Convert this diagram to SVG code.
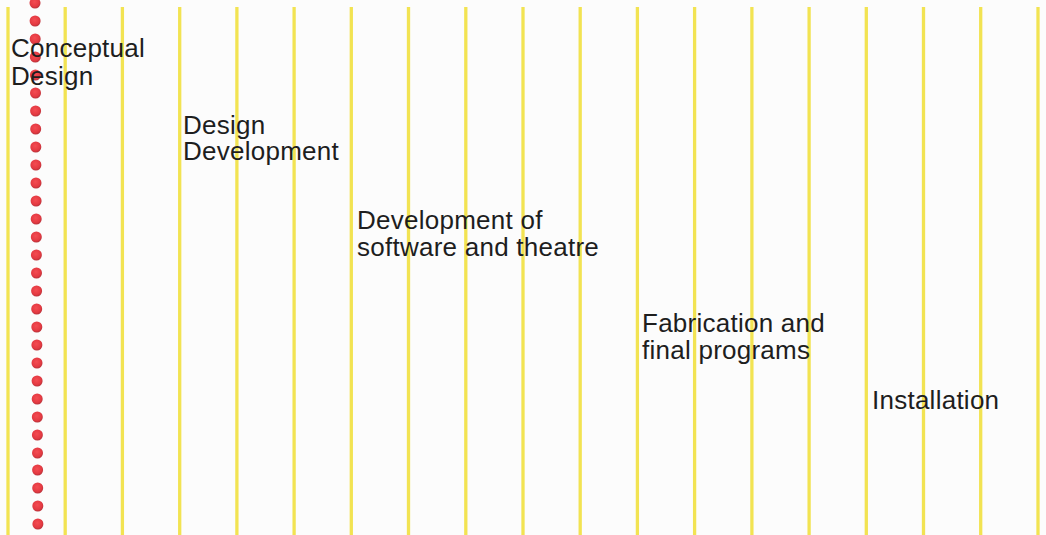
<svg xmlns="http://www.w3.org/2000/svg" width="1046" height="535" viewBox="0 0 1046 535">
<defs>
<radialGradient id="dotg" cx="45%" cy="40%" r="60%">
<stop offset="0" stop-color="#f44c52"/>
<stop offset="0.7" stop-color="#e43a42"/>
<stop offset="1" stop-color="#b8323a"/>
</radialGradient>
</defs>
<style>
.grid line{stroke:#f2e352;stroke-width:3.3}
.dot{fill:url(#dotg)}
text{font-family:"Liberation Sans",Arial,Helvetica,sans-serif;font-size:26px;letter-spacing:0.25px;fill:#1e1e1e}
</style>
<rect x="0" y="0" width="1046" height="535" fill="#fcfcfc"/>
<g id="grid" class="grid">
<line x1="8" y1="7" x2="8" y2="535"/>
<line x1="65.2" y1="7" x2="65.2" y2="535"/>
<line x1="122.4" y1="7" x2="122.4" y2="535"/>
<line x1="179.7" y1="7" x2="179.7" y2="535"/>
<line x1="236.9" y1="7" x2="236.9" y2="535"/>
<line x1="294.1" y1="7" x2="294.1" y2="535"/>
<line x1="351.3" y1="7" x2="351.3" y2="535"/>
<line x1="408.5" y1="7" x2="408.5" y2="535"/>
<line x1="465.8" y1="7" x2="465.8" y2="535"/>
<line x1="523" y1="7" x2="523" y2="535"/>
<line x1="580.2" y1="7" x2="580.2" y2="535"/>
<line x1="637.4" y1="7" x2="637.4" y2="535"/>
<line x1="694.6" y1="7" x2="694.6" y2="535"/>
<line x1="751.9" y1="7" x2="751.9" y2="535"/>
<line x1="809.1" y1="7" x2="809.1" y2="535"/>
<line x1="866.3" y1="7" x2="866.3" y2="535"/>
<line x1="923.5" y1="7" x2="923.5" y2="535"/>
<line x1="980.7" y1="7" x2="980.7" y2="535"/>
<line x1="1038" y1="7" x2="1038" y2="535"/>
</g>
<g id="dots">
<circle class="dot" cx="35" cy="3" r="5.5"/>
<circle class="dot" cx="35.1" cy="21" r="5.5"/>
<circle class="dot" cx="35.2" cy="39" r="5.5"/>
<circle class="dot" cx="35.3" cy="57" r="5.5"/>
<circle class="dot" cx="35.4" cy="75" r="5.5"/>
<circle class="dot" cx="35.5" cy="93" r="5.5"/>
<circle class="dot" cx="35.6" cy="111" r="5.5"/>
<circle class="dot" cx="35.7" cy="129" r="5.5"/>
<circle class="dot" cx="35.8" cy="147" r="5.5"/>
<circle class="dot" cx="35.9" cy="165" r="5.5"/>
<circle class="dot" cx="36" cy="183" r="5.5"/>
<circle class="dot" cx="36.1" cy="201" r="5.5"/>
<circle class="dot" cx="36.2" cy="219" r="5.5"/>
<circle class="dot" cx="36.3" cy="237" r="5.5"/>
<circle class="dot" cx="36.4" cy="255" r="5.5"/>
<circle class="dot" cx="36.5" cy="273" r="5.5"/>
<circle class="dot" cx="36.6" cy="291" r="5.5"/>
<circle class="dot" cx="36.7" cy="309" r="5.5"/>
<circle class="dot" cx="36.8" cy="327" r="5.5"/>
<circle class="dot" cx="36.9" cy="345" r="5.5"/>
<circle class="dot" cx="37" cy="363" r="5.5"/>
<circle class="dot" cx="37.1" cy="381" r="5.5"/>
<circle class="dot" cx="37.2" cy="399" r="5.5"/>
<circle class="dot" cx="37.3" cy="417" r="5.5"/>
<circle class="dot" cx="37.4" cy="435" r="5.5"/>
<circle class="dot" cx="37.5" cy="453" r="5.5"/>
<circle class="dot" cx="37.6" cy="470" r="5.5"/>
<circle class="dot" cx="37.7" cy="488" r="5.5"/>
<circle class="dot" cx="37.8" cy="506" r="5.5"/>
<circle class="dot" cx="37.9" cy="524" r="5.5"/>
</g>
<g id="connectors"></g>
<g id="conceptual-design">
<text x="11" y="57">Conceptual</text>
<text x="11" y="85">Design</text>
</g>
<g id="design-development">
<text x="183" y="134">Design</text>
<text x="183" y="160">Development</text>
</g>
<g id="development-software-theatre">
<text x="357" y="229">Development of</text>
<text x="357" y="256">software and theatre</text>
</g>
<g id="fabrication-final-programs">
<text x="642" y="332">Fabrication and</text>
<text x="642" y="359">final programs</text>
</g>
<g id="installation">
<text x="872" y="409">Installation</text>
</g>
</svg>
